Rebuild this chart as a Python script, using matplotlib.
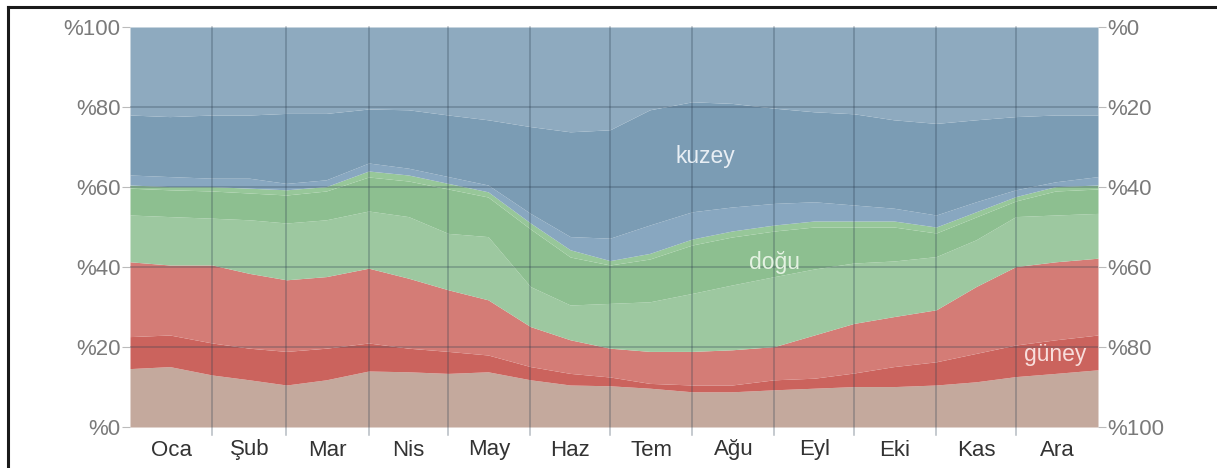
import matplotlib.pyplot as plt
from matplotlib.lines import Line2D
import numpy as np

plt.rcParams['font.family'] = ['Liberation Sans', 'DejaVu Sans']

# day of year where values were read
days = [0, 15, 31, 45, 59, 74, 90, 105, 120, 135, 151, 166, 181,
        196, 212, 227, 243, 258, 273, 288, 304, 319, 334, 349, 365]

# cumulative band tops (percent), bottom to top
bati_top = [14.6, 15.1, 13.0, 11.8, 10.5, 11.8, 14.0, 13.8, 13.4, 13.8, 11.8, 10.5, 10.3,
            9.7, 8.8, 8.8, 9.3, 9.7, 10.1, 10.1, 10.5, 11.3, 12.6, 13.4, 14.3]
guney_core_top = [22.6, 23.0, 21.0, 19.7, 18.9, 19.7, 21.0, 19.7, 18.9, 18.0, 15.1, 13.4, 12.5,
                  10.9, 10.5, 10.5, 11.8, 12.2, 13.5, 15.1, 16.3, 18.4, 20.5, 21.8, 23.0]
guney_top = [41.3, 40.5, 40.5, 38.4, 36.8, 37.6, 39.7, 37.2, 34.3, 31.8, 25.1, 21.8, 19.7,
             18.9, 18.9, 19.3, 20.1, 23.0, 25.9, 27.6, 29.3, 35.1, 40.1, 41.3, 42.2]
dogu_light_top = [53.0, 52.6, 52.2, 51.8, 51.0, 51.8, 54.0, 52.6, 48.4, 47.6, 35.1, 30.5, 30.9,
                  31.3, 33.4, 35.5, 37.6, 39.5, 41.0, 41.5, 42.6, 46.8, 52.6, 53.0, 53.4]
dogu_core_top = [59.7, 59.3, 59.0, 58.5, 58.0, 59.0, 62.5, 61.5, 59.5, 57.5, 49.5, 42.5, 40.5,
                 42.0, 45.5, 47.5, 49.0, 50.0, 50.0, 50.0, 48.5, 52.5, 56.5, 59.0, 59.5]
dogu_top = [60.5, 60.1, 60.1, 59.7, 59.3, 60.1, 64.0, 63.0, 60.9, 58.8, 51.0, 44.3, 41.6,
            43.4, 47.0, 49.0, 50.5, 51.5, 51.5, 51.5, 50.0, 53.8, 57.6, 60.1, 60.5]
kuzey_edge_top = [63.0, 62.6, 62.2, 62.2, 60.9, 61.8, 66.0, 64.7, 62.6, 60.5, 53.4, 47.6, 47.2,
                  50.5, 53.8, 55.0, 55.9, 56.3, 55.5, 54.7, 53.0, 56.3, 59.3, 61.3, 62.6]
kuzey_core_top = [78.0, 77.6, 78.0, 78.0, 78.4, 78.4, 79.5, 79.3, 78.0, 76.8, 75.1, 73.8, 74.3,
                  79.3, 81.3, 80.9, 79.7, 78.8, 78.3, 76.8, 75.9, 76.8, 77.6, 78.0, 78.0]
total = [100] * len(days)

month_edges = [0, 31, 59, 90, 120, 151, 181, 212, 243, 273, 304, 334, 365]
months = ['Oca', 'Şub', 'Mar', 'Nis', 'May', 'Haz', 'Tem', 'Ağu', 'Eyl', 'Eki', 'Kas', 'Ara']
pct_ticks = [0, 20, 40, 60, 80, 100]

bands = [
    (None, bati_top, '#c4a99d'),
    (bati_top, guney_core_top, '#cb635d'),
    (guney_core_top, guney_top, '#d47c76'),
    (guney_top, dogu_light_top, '#9dc8a0'),
    (dogu_light_top, dogu_core_top, '#8dbf90'),
    (dogu_core_top, dogu_top, '#97c799'),
    (dogu_top, kuzey_edge_top, '#88a7c0'),
    (kuzey_edge_top, kuzey_core_top, '#7b9cb4'),
    (kuzey_core_top, total, '#8eaabf'),
]

fig = plt.figure(figsize=(12.17, 4.68), dpi=100)
ax = fig.add_axes([130 / 1217, 1 - 427 / 468, 968 / 1217, 400 / 468])

x = np.array(days)
for lo, hi, col in bands:
    lo_v = np.zeros(len(days)) if lo is None else np.array(lo)
    ax.fill_between(x, lo_v, np.array(hi), color=col, lw=0)

ax.set_xlim(0, 365)
ax.set_ylim(0, 100)

# grid on top of the fills
for m in month_edges[1:-1]:
    ax.axvline(m, ymin=-0.02, ymax=1, color='#2c3e50', alpha=0.35, lw=1.1, clip_on=False)
for p in pct_ticks[1:-1]:
    ax.axhline(p, color='#2c3e50', alpha=0.35, lw=1.1)

for s in ax.spines.values():
    s.set_visible(False)

ax.set_yticks(pct_ticks)
ax.set_yticklabels(['%' + str(p) for p in pct_ticks])
ax.tick_params(axis='y', length=6, color='#bbbbbb', labelcolor='#7a7a7a', labelsize=16, pad=1)

mids = [(month_edges[i] + month_edges[i + 1]) / 2 for i in range(12)]
ax.set_xticks(mids)
ax.set_xticklabels(months)
ax.tick_params(axis='x', length=0, labelcolor='#333333', labelsize=16, pad=9)

ax2 = ax.twinx()
ax2.set_ylim(100, 0)
ax2.set_yticks(pct_ticks)
ax2.set_yticklabels(['%' + str(p) for p in pct_ticks])
ax2.tick_params(axis='y', length=6, color='#bbbbbb', labelcolor='#7a7a7a', labelsize=16, pad=1)
for s in ax2.spines.values():
    s.set_visible(False)

ax.text(217, 67.5, 'kuzey', color='#e8eef4', fontsize=16.5, ha='center', va='center')
ax.text(243, 41, 'doğu', color='#e4f2e2', fontsize=16.5, ha='center', va='center')
ax.text(349, 18, 'güney', color='#f8dedc', fontsize=16.5, ha='center', va='center')

# screenshot frame
fig.add_artist(Line2D([8 / 1217, 8 / 1217], [0, 1 - 7 / 468], color='#1a1a1a', lw=2.2,
                      transform=fig.transFigure))
fig.add_artist(Line2D([8 / 1217, 1], [1 - 7 / 468, 1 - 7 / 468], color='#1a1a1a', lw=2.2,
                      transform=fig.transFigure))

fig.savefig('out.png', dpi=100)
